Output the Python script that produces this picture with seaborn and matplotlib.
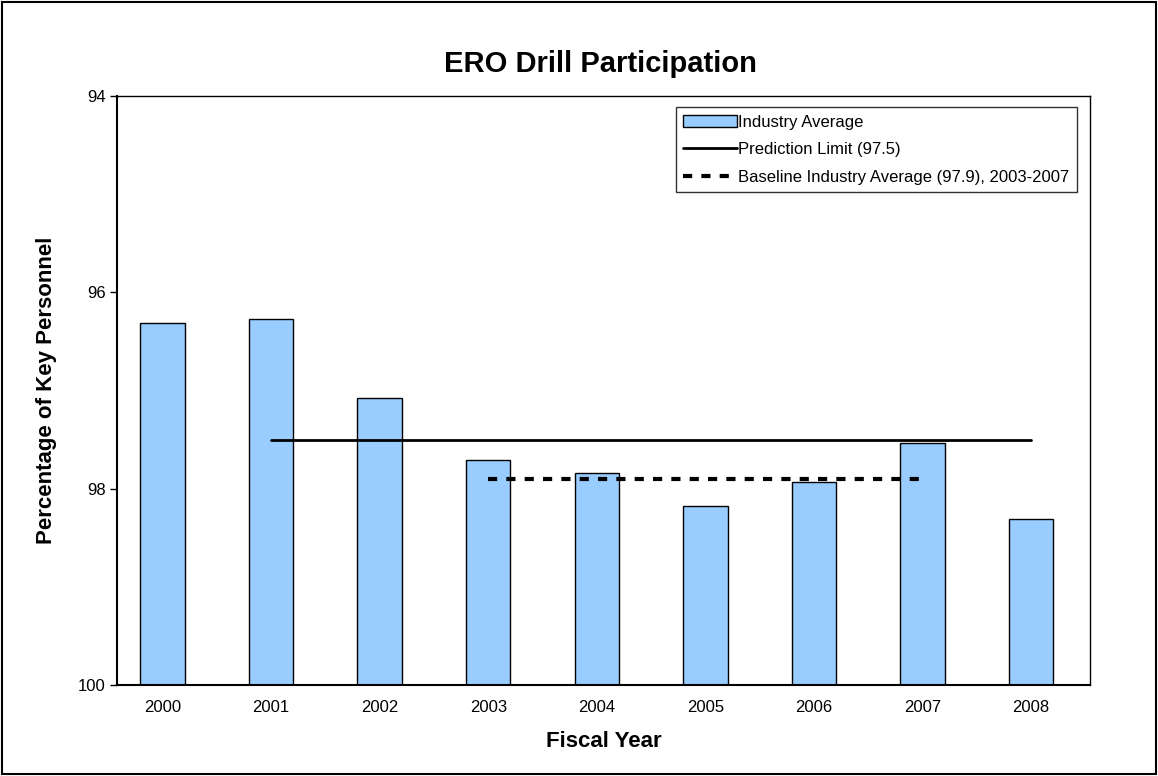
import matplotlib
matplotlib.use("Agg")
import matplotlib.pyplot as plt
import seaborn as sns
import pandas as pd
from matplotlib.patches import Rectangle
from matplotlib.lines import Line2D

# values (axis is inverted: 94 at top, 100 at bottom)
years = ["2000", "2001", "2002", "2003", "2004", "2005", "2006", "2007", "2008"]
industry_avg = [96.31, 96.27, 97.08, 97.71, 97.84, 98.18, 97.93, 97.54, 98.31]
prediction_limit = 97.5
baseline_avg = 97.9
baseline_span = ["2003", "2007"]
limit_span = ["2001", "2008"]

sns.set_style("white")
plt.rcParams['font.family'] = ['Liberation Sans', 'DejaVu Sans']
plt.rcParams['text.color'] = 'black'
plt.rcParams['axes.labelcolor'] = 'black'
plt.rcParams['xtick.color'] = 'black'
plt.rcParams['ytick.color'] = 'black'

df = pd.DataFrame({"Year": years, "Value": industry_avg})
df["Height"] = df["Value"] - 100

fig = plt.figure(figsize=(11.58, 7.76), dpi=100)
ax = fig.add_axes([0.101, 0.1173, 0.84, 0.759])

sns.barplot(data=df, x="Year", y="Height", bottom=100, color="#99CCFF",
            saturation=1, width=0.41, edgecolor="black", linewidth=1, ax=ax)

# prediction limit and baseline lines
i0, i1 = years.index(limit_span[0]), years.index(limit_span[1])
ax.plot([i0, i1], [prediction_limit]*2, color="black", lw=2)
j0, j1 = years.index(baseline_span[0]), years.index(baseline_span[1])
ax.plot([j0, j1], [baseline_avg]*2, color="black", lw=3, linestyle=(0, (2.2, 2.2)))

ax.set_ylim(100, 94)
ax.set_xlim(-0.42, 8.54)
ax.set_yticks([94, 96, 98, 100])
ax.set_yticklabels(["94", "96", "98", "100"])
ax.tick_params(axis="y", length=5, width=1, direction="out", labelsize=12, left=True, pad=3)
ax.tick_params(axis="x", length=0, labelsize=12, pad=10.5)
for s in ax.spines.values():
    s.set_color("black")
    s.set_linewidth(1)
ax.spines["bottom"].set_linewidth(1.5)
ax.spines["left"].set_linewidth(1.5)

ax.set_xlabel("Fiscal Year", fontsize=16, fontweight="bold", labelpad=12)
ax.set_ylabel("Percentage of Key Personnel", fontsize=16, fontweight="bold", labelpad=15)
fig.text(0.5185, 0.918, "ERO Drill Participation", ha="center", va="center",
         fontsize=21, fontweight="bold")

handles = [Rectangle((0, 0), 1, 1, facecolor="#99CCFF", edgecolor="black", lw=1),
           Line2D([], [], color="black", lw=2),
           Line2D([], [], color="black", lw=3, linestyle=(0, (2.2, 2.2)))]
labels = ["Industry Average", "Prediction Limit (97.5)",
          "Baseline Industry Average (97.9), 2003-2007"]
leg = ax.legend(handles, labels, loc="upper right", bbox_to_anchor=(0.987, 0.981),
                fontsize=12, frameon=True, fancybox=False, edgecolor="black",
                borderaxespad=0, handlelength=3.2, handletextpad=0.1,
                labelspacing=0.75, borderpad=0.45)
leg.get_frame().set_linewidth(1)

fig.patches.append(Rectangle((0.002, 0.003), 0.996, 0.994, transform=fig.transFigure,
                             fill=False, edgecolor="black", lw=1.5))

fig.savefig("out.png", dpi=100)
